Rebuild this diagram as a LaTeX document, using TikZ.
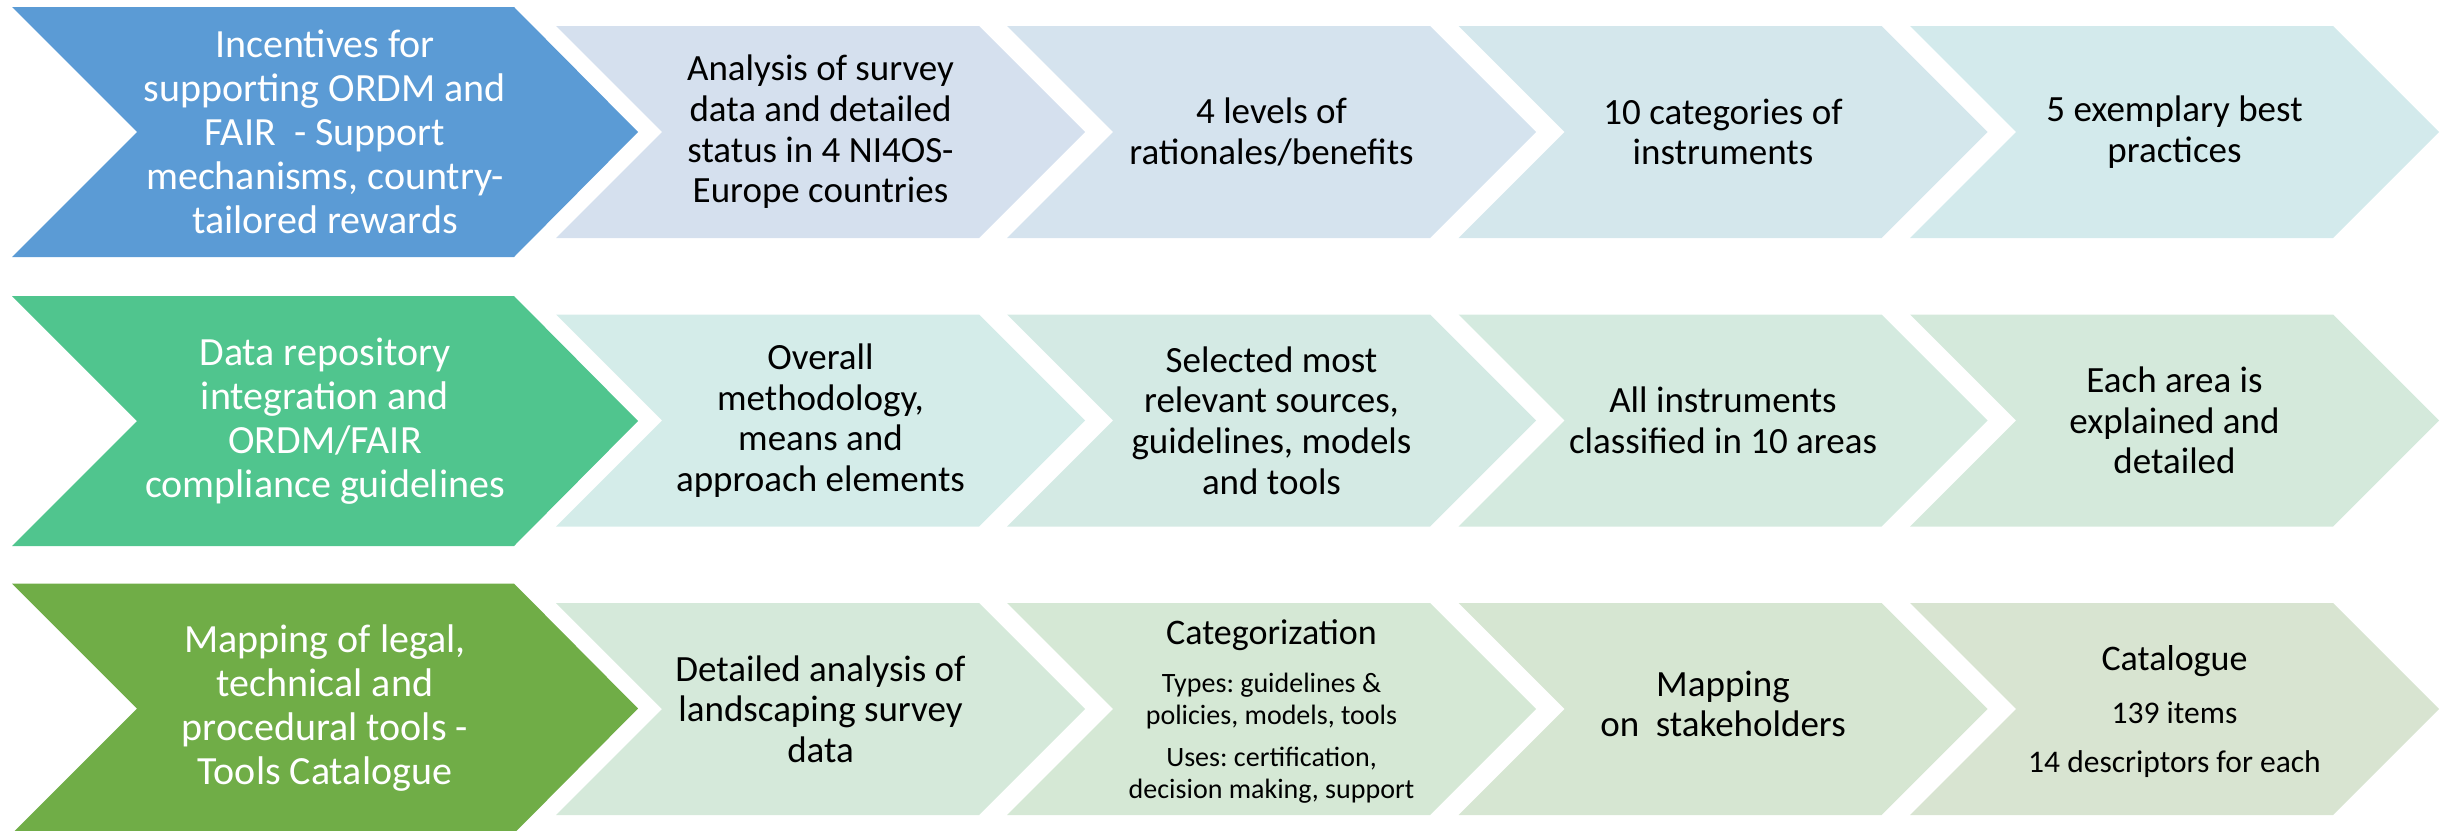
\documentclass[tikz,border=0pt]{standalone}
\usepackage{fontspec}
\setmainfont{Carlito}
\usepackage{tikz}
\frenchspacing

\definecolor{incblue}{HTML}{5B9BD5}
\definecolor{repgreen}{HTML}{50C58E}
\definecolor{mapgreen}{HTML}{70AD47}
\definecolor{inc1}{HTML}{D5E0EE}
\definecolor{inc2}{HTML}{D5E3EE}
\definecolor{inc3}{HTML}{D4E7EC}
\definecolor{inc4}{HTML}{D3EAEC}
\definecolor{rep1}{HTML}{D4ECE9}
\definecolor{rep2}{HTML}{D4EAE4}
\definecolor{rep3}{HTML}{D4EADF}
\definecolor{rep4}{HTML}{D4E9DB}
\definecolor{map1}{HTML}{D5E9DA}
\definecolor{map2}{HTML}{D5E8D5}
\definecolor{map3}{HTML}{D6E6D2}
\definecolor{map4}{HTML}{D8E4D1}

\begin{document}
\begin{tikzpicture}[x=0.5pt,y=-0.5pt,
        leadtext/.style={text=white, align=center, font=\fontsize{20}{22}\selectfont},
        steptext/.style={align=center, font=\fontsize{18.5}{20.3}\selectfont}]
        \useasboundingbox (0,0) rectangle (2446,830);
        % lead chevrons
        \foreach \c/\col in {132/incblue,421/repgreen,708.5/mapgreen}
            \fill[\col] (12,\c-125) -- (514,\c-125) -- (638,\c) -- (514,\c+125) -- (12,\c+125) -- (137,\c) -- cycle;
        % step chevrons
        \foreach \c/\r in {132/inc,420.5/rep,709/map}
            \foreach \x [count=\i] in {556,1007,1458.5,1910}
                \fill[\r\i] (\x,\c-106) -- (\x+423,\c-106) -- (\x+529,\c) -- (\x+423,\c+106) -- (\x,\c+106) -- (\x+106,\c) -- cycle;

        \node[leadtext] (incentives) at (325,132) {Incentives for\\supporting ORDM and\\FAIR \ - Support\\mechanisms, country-\\tailored rewards};
        \node[steptext] (analysis) at (820.5,132) {Analysis of survey\\data and detailed\\status in 4 NI4OS-\\Europe countries};
        \node[steptext] (levels) at (1271.5,132) {4 levels of\\rationales/benefits};
        \node[steptext] (categories) at (1723,132) {10 categories of\\instruments};
        \node[steptext] (practices) at (2174.5,132) {5 exemplary best\\practices};

        \node[leadtext] (repository) at (325,421) {Data repository\\integration and\\ORDM/FAIR\\compliance guidelines};
        \node[steptext] (methodology) at (820.5,420.5) {Overall\\methodology,\\means and\\approach elements};
        \node[steptext] (sources) at (1271.5,420.5) {Selected most\\relevant sources,\\guidelines, models\\and tools};
        \node[steptext] (areas) at (1723,420.5) {All instruments\\classified in 10 areas};
        \node[steptext] (explained) at (2174.5,420.5) {Each area is\\explained and\\detailed};

        \node[leadtext] (mapping) at (325,708.5) {Mapping of legal,\\technical and\\procedural tools -\\Tools Catalogue};
        \node[steptext] (landscaping) at (820.5,709) {Detailed analysis of\\landscaping survey\\data};
        \node[steptext, align=flush center, font=\fontsize{18}{20}\selectfont, text width=200pt] (categorization) at (1271.5,711)
            {Categorization\par\vspace{8pt}{\fontsize{14}{16}\selectfont Types: guidelines \&\\policies, models, tools\par\vspace{5pt}Uses: certification,\\decision making, support\par}};
        \node[steptext] (stakeholders) at (1723,704) {Mapping\\on \ stakeholders};
        \node[steptext, align=flush center, font=\fontsize{18}{20}\selectfont, text width=200pt] (catalogue) at (2174.5,712)
            {Catalogue\par\vspace{8.5pt}{\fontsize{15.75}{18}\selectfont 139 items\par\vspace{6.5pt}14 descriptors for each\par}};
\end{tikzpicture}
\end{document}
